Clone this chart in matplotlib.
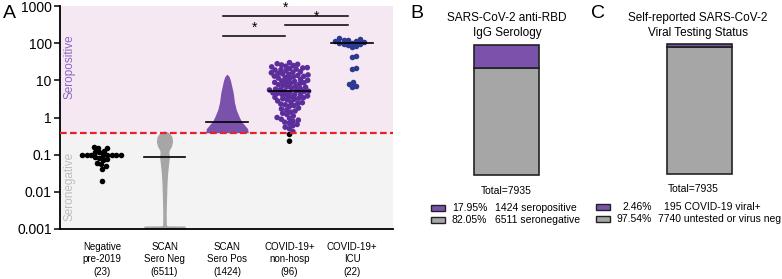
import numpy as np
import matplotlib.pyplot as plt
from matplotlib.patches import Rectangle

plt.rcParams["font.family"] = ["Liberation Sans", "DejaVu Sans"]

W, H = 782, 279

# ---- data ----
groups = ["Negative\npre-2019\n(23)", "SCAN\nSero Neg\n(6511)", "SCAN\nSero Pos\n(1424)",
          "COVID-19+\nnon-hosp\n(96)", "COVID-19+\nICU\n(22)"]
threshold = 0.39
yticks = [0.001, 0.01, 0.1, 1, 10, 100, 1000]
ytick_labels = ["0.001", "0.01", "0.1", "1", "10", "100", "1000"]

neg_pre2019 = [0.155, 0.15, 0.16, 0.12, 0.125, 0.115, 0.1, 0.1, 0.1, 0.1, 0.1, 0.1, 0.1,
               0.095, 0.085, 0.08, 0.075, 0.07, 0.06, 0.055, 0.05, 0.042, 0.02]
non_hosp = [0.23, 0.35, 0.42, 0.5, 0.55, 0.6, 0.65, 0.7, 0.75, 0.8,
            0.85, 0.9, 0.95, 1.0, 1.1, 1.2, 1.3, 1.4, 1.5, 1.6,
            1.8, 2.0, 2.1, 2.3, 2.5, 2.6, 2.8, 3.0, 3.1, 3.3,
            3.5, 3.6, 3.8, 4.0, 4.1, 4.3, 4.5, 4.6, 4.8, 5.0,
            5.1, 5.2, 1.7, 2.2, 2.4, 3.2, 3.4, 4.2,
            5.3, 5.5, 5.6, 5.8, 6.0, 6.2, 6.5, 6.8, 7.0, 7.3,
            7.6, 8.0, 8.3, 8.6, 9.0, 9.3, 9.6, 10, 10.5, 11,
            11.5, 12, 12.5, 13, 13.5, 14, 15, 15.5, 16, 17,
            18, 19, 20, 21, 22, 23, 24, 25, 26, 27,
            28, 30, 8.8, 12.8, 14.5, 16.5, 19.5, 21.5]
icu = [135, 130, 125, 120, 117, 112, 108, 104, 100, 97, 93, 90, 86, 78,
       45, 42, 22, 20, 9, 8, 7, 6.5]

# violin outlines for the two large SCAN groups: (log10 value, half width)
sero_neg_log = [-3.0, -2.92, -2.915, -2.9, -2.6, -2.2, -1.8, -1.5, -1.25, -1.05, -0.95,
                -0.88, -0.78, -0.65, -0.52, -0.44, -0.39, -0.36]
sero_neg_w = [0.33, 0.33, 0.05, 0.03, 0.027, 0.033, 0.04, 0.05, 0.065, 0.08, 0.07,
              0.075, 0.11, 0.13, 0.12, 0.09, 0.05, 0.0]
sero_pos_log = [-0.41, -0.3, -0.2, -0.1, 0.0, 0.2, 0.4, 0.66, 0.85, 1.0, 1.1, 1.17]
sero_pos_w = [0.34, 0.33, 0.28, 0.23, 0.2, 0.15, 0.12, 0.1, 0.075, 0.055, 0.035, 0.0]

centers = [None, 0.087, 0.76, 5.2, 100]   # summary lines

sig_pairs = [(2, 3), (2, 4), (3, 4)]
sig_heights = [156, 540, 309]

sero_labels = ["17.95%", "82.05%"]
sero_counts = ["1424 seropositive", "6511 seronegative"]
sero_vals = [17.95, 82.05]
viral_labels = ["2.46%", "97.54%"]
viral_counts = ["195 COVID-19 viral+", "7740 untested or virus neg"]
viral_vals = [2.46, 97.54]

purple = "#7A52AB"
dark_purple = "#5B2E9C"
navy = "#2C3A90"
grey = "#A6A6A6"


def px(x, y):
    return x / W, 1 - y / H


def swarm(ax, values, d):
    """beeswarm offsets (data units) for marker diameter d in pixels"""
    vals = np.sort(np.asarray(values, float))
    ypx = [ax.transData.transform((0, v))[1] for v in vals]
    ux = ax.transData.transform((1, 0))[0] - ax.transData.transform((0, 0))[0]
    placed = []
    xs = []
    for yp in ypx:
        cands = [0.0]
        for (xq, yq) in placed:
            dy = abs(yp - yq)
            if dy < d:
                dx = np.sqrt(d * d - dy * dy)
                cands += [xq + dx, xq - dx]
        cands.sort(key=abs)
        for c in cands:
            if all((c - xq) ** 2 + (yp - yq) ** 2 >= d * d - 1e-6 for xq, yq in placed):
                placed.append((c, yp))
                xs.append(c / ux)
                break
    return vals, np.array(xs)


fig = plt.figure(figsize=(W / 100, H / 100), dpi=100)

# ---- panel A ----
ax = fig.add_axes([60 / W, 50 / H, 333 / W, 223 / H])
ax.set_yscale("log")
ax.set_ylim(0.001, 1000)
ax.set_xlim(-0.672, 4.656)
ax.axhspan(threshold, 1000, color="#F6E8F3", zorder=0, lw=0)
ax.axhspan(0.001, threshold, color="#F3F3F3", zorder=0, lw=0)
ax.axhline(threshold, color="#E8202A", ls=(0, (3, 1.5)), lw=1.6, zorder=5)

ax.fill_betweenx(10 ** np.array(sero_neg_log), 1 - np.array(sero_neg_w), 1 + np.array(sero_neg_w),
                 color=grey, lw=0, zorder=2)
ax.fill_betweenx(10 ** np.array(sero_pos_log), 2 - np.array(sero_pos_w), 2 + np.array(sero_pos_w),
                 color=purple, lw=0, zorder=2)

d = 4.5
v, xo = swarm(ax, neg_pre2019, d)
ax.scatter(0 + xo, v, s=16, color="black", lw=0, zorder=3)
v, xo = swarm(ax, non_hosp, d)
cols = ["black" if val < threshold else dark_purple for val in v]
ax.scatter(3 + xo, v, s=16, color=cols, lw=0, zorder=3)
v, xo = swarm(ax, icu, d)
ax.scatter(4 + xo, v, s=16, color=navy, lw=0, zorder=3)

for i, c in enumerate(centers):
    if c is not None:
        ax.plot([i - 0.33, i + 0.33], [c, c], color="black", lw=1.2, zorder=4)

for (a, b), h in zip(sig_pairs, sig_heights):
    ax.plot([a - 0.065, b - 0.065], [h, h], color="black", lw=1.1, zorder=4)
    ax.text((a + b) / 2 - 0.065, h * 1.05, "*", ha="center", va="bottom", fontsize=10)

ax.text(-0.512, 23, "Seropositive", rotation=90, ha="center", va="center",
        color="#8C66C4", fontsize=8.5)
ax.text(-0.512, 0.0144, "Seronegative", rotation=90, ha="center", va="center",
        color="#BDBDBD", fontsize=8.5)

ax.set_yticks(yticks)
ax.set_yticklabels(ytick_labels, fontsize=10)
ax.minorticks_off()
ax.set_xticks(range(len(groups)))
ax.set_xticklabels(groups, fontsize=7, linespacing=1.35)
ax.tick_params(axis="x", length=0, pad=9)
ax.tick_params(axis="y", length=4, width=1.1, pad=2)
for s in ["top", "right"]:
    ax.spines[s].set_visible(False)
for s in ["left", "bottom"]:
    ax.spines[s].set_linewidth(1.3)

fig.text(*px(3, 13), "A", fontsize=14, va="center")

# ---- panels B and C ----
def stack_bar(left, top, vals, title, tx, ty):
    bx = fig.add_axes([left / W, (H - top - 130) / H, 65 / W, 130 / H])
    bx.bar([0], [vals[1]], width=1, bottom=0, color=grey, edgecolor="#222222", lw=1.2, clip_on=False)
    bx.bar([0], [vals[0]], width=1, bottom=vals[1], color=purple, edgecolor="#222222", lw=1.2,
           clip_on=False)
    bx.set_xlim(-0.5, 0.5)
    bx.set_ylim(0, 100)
    bx.axis("off")
    fig.text(*px(tx, ty), title, ha="center", va="top", fontsize=8.5, linespacing=1.35)


stack_bar(474, 45, sero_vals, "SARS-CoV-2 anti-RBD\nIgG Serology", 507, 12)
stack_bar(667, 44, viral_vals, "Self-reported SARS-CoV-2\nViral Testing Status", 698, 12)

fig.text(*px(410, 13), "B", fontsize=14, va="center")
fig.text(*px(591, 13), "C", fontsize=14, va="center")

fig.text(*px(506, 191), "Total=7935", ha="center", va="center", fontsize=7.5)
fig.text(*px(693, 189), "Total=7935", ha="center", va="center", fontsize=7.5)

for k, (yy, col) in enumerate(zip([208, 220], [purple, grey])):
    fig.add_artist(Rectangle(px(431, yy + 3), 14 / W, 6 / H, transform=fig.transFigure,
                             facecolor=col, edgecolor="#222222", lw=1))
    fig.text(*px(452, yy), sero_labels[k], va="center", fontsize=7.5)
    fig.text(*px(495, yy), sero_counts[k], va="center", fontsize=7.5)

for k, (yy, col) in enumerate(zip([207, 219], [purple, grey])):
    fig.add_artist(Rectangle(px(596, yy + 3), 14 / W, 6 / H, transform=fig.transFigure,
                             facecolor=col, edgecolor="#222222", lw=1))
    fig.text(*px(652, yy), viral_labels[k], ha="right", va="center", fontsize=7.5)
    fig.text(*px([664, 658][k], yy), viral_counts[k], va="center", fontsize=7.5)

fig.savefig("out.png", dpi=100)
